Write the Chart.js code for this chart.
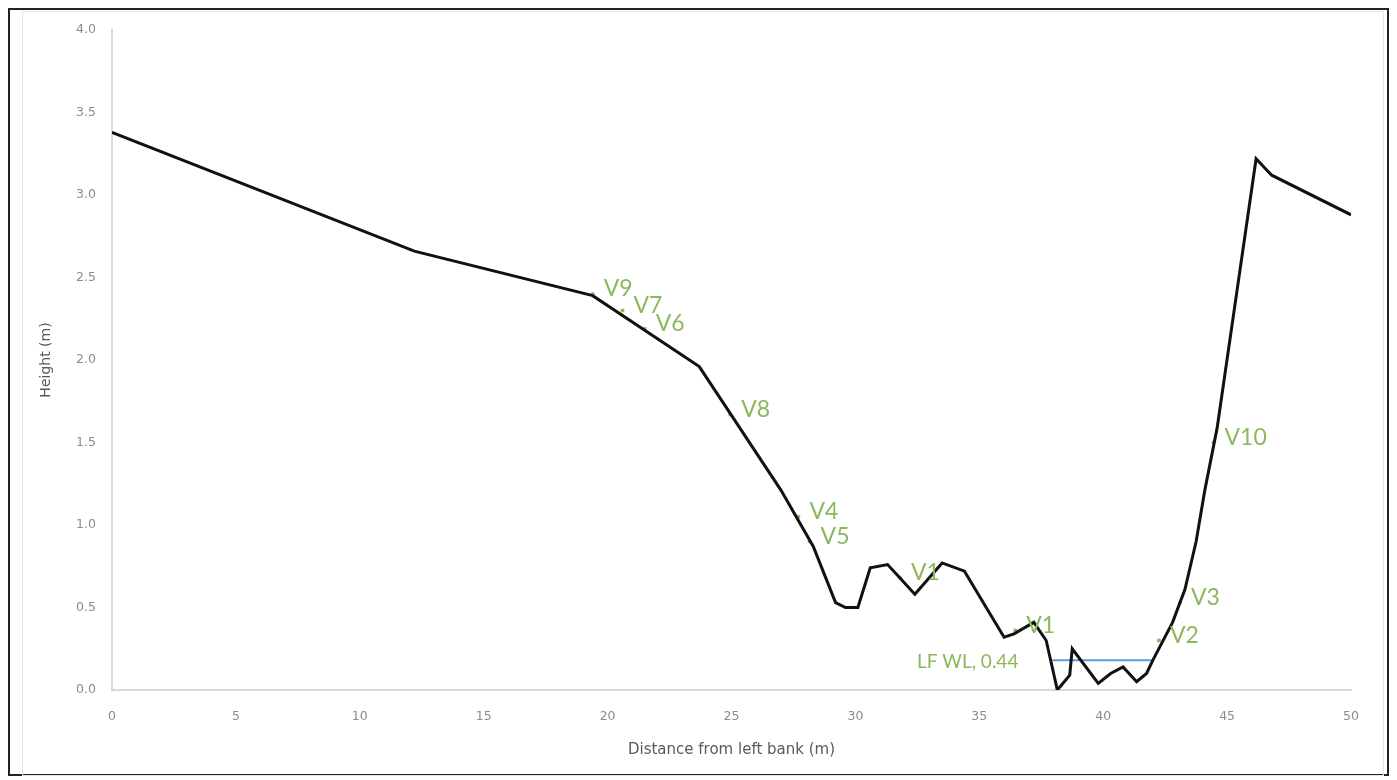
<!DOCTYPE html>
<html>
<head>
<meta charset="utf-8">
<script src="https://cdn.jsdelivr.net/npm/chart.js@4"></script>
<style>
  html, body { margin: 0; padding: 0; background: #fff; }
  #wrap { position: relative; width: 1397px; height: 780px; }
  #frame { position: absolute; left: 8px; top: 8px; width: 1381px; height: 768px; border: 2px solid #222; box-sizing: border-box; }
  #inner { position: absolute; left: 22px; top: 11px; width: 1362px; height: 765px; border: 1px solid #e6e6e6; box-sizing: border-box; }
  canvas { position: absolute; left: 0; top: 0; }
</style>
</head>
<body>
<div id="wrap">
  <div id="frame"></div>
  <div id="inner"></div>
  <canvas id="profile" width="1397" height="780"></canvas>
</div>
<script>
// cross-section survey: distance from left bank vs bed height
const profileX = [0, 12.2, 19.4, 23.7, 27.0, 28.3, 29.2, 29.6, 30.1, 30.6, 31.3, 32.4, 33.5, 34.4,
  36.0, 36.4, 37.2, 37.7, 38.15, 38.65, 38.75, 39.8, 40.3, 40.8, 41.35, 41.75, 42.0, 42.8,
  43.3, 43.75, 44.1, 44.6, 46.17, 46.8, 50.0];
const profileY = [3.38, 2.66, 2.39, 1.96, 1.21, 0.87, 0.53, 0.50, 0.50, 0.74, 0.76, 0.58, 0.77, 0.72,
  0.32, 0.34, 0.41, 0.30, 0.0, 0.09, 0.25, 0.04, 0.10, 0.14, 0.05, 0.10, 0.18, 0.41,
  0.61, 0.90, 1.21, 1.59, 3.22, 3.12, 2.88];

// velocity sampling points
const pointNames = ['V9', 'V7', 'V6', 'V8', 'V4', 'V5', 'V1', 'V1', 'V2', 'V3', 'V10'];
const pointX = [19.4, 20.6, 21.5, 24.95, 27.7, 28.15, 31.8, 36.45, 42.25, 43.1, 44.45];
const pointY = [2.40, 2.30, 2.19, 1.67, 1.05, 0.90, 0.68, 0.36, 0.30, 0.53, 1.50];

// low flow water level
const lfwlName = 'LF WL, 0.44';
const lfwlX = [37.95, 41.95];
const lfwlY = [0.18, 0.18];

const xTicks = [0, 5, 10, 15, 20, 25, 30, 35, 40, 45, 50];
const yTicks = [0, 0.5, 1.0, 1.5, 2.0, 2.5, 3.0, 3.5, 4.0];

const green = '#8cb85c';
const font = 'Lato, "Open Sans", sans-serif';
const axisFont = '"DejaVu Sans", Verdana, sans-serif';

const toPts = (xs, ys) => xs.map((x, i) => ({ x: x, y: ys[i] }));

const labelPlugin = {
  id: 'pointText',
  afterDatasetsDraw(chart) {
    const ctx = chart.ctx;
    ctx.save();
    ctx.fillStyle = green;
    ctx.textBaseline = 'middle';
    ctx.font = '23px ' + font;
    ctx.textAlign = 'left';
    chart.getDatasetMeta(2).data.forEach((p, i) => {
      ctx.fillText(pointNames[i], p.x + 11, p.y - 5);
    });
    const wl = chart.getDatasetMeta(1).data[0];
    ctx.font = '19px ' + font;
    ctx.textAlign = 'right';
    ctx.fillText(lfwlName, wl.x - 34, wl.y + 2);
    ctx.restore();
  }
};

new Chart(document.getElementById('profile').getContext('2d'), {
  type: 'scatter',
  data: {
    datasets: [{
      label: 'Bed profile',
      data: toPts(profileX, profileY),
      showLine: true,
      borderColor: '#111',
      borderWidth: 3,
      pointRadius: 0,
      tension: 0
    }, {
      label: lfwlName,
      data: toPts(lfwlX, lfwlY),
      showLine: true,
      borderColor: '#5b9bd5',
      borderWidth: 2,
      pointRadius: 0
    }, {
      label: 'Velocity points',
      data: toPts(pointX, pointY),
      showLine: false,
      pointRadius: 2,
      pointBackgroundColor: green,
      pointBorderWidth: 0
    }]
  },
  options: {
    responsive: false,
    animation: false,
    layout: { padding: { left: 0, top: 30, right: 46, bottom: 0 } },
    plugins: { legend: { display: false }, tooltip: { enabled: false } },
    scales: {
      x: {
        type: 'linear',
        min: 0, max: 50,
        afterFit: s => { s.height = 90; },
        afterBuildTicks: s => { s.ticks = xTicks.map(v => ({ value: v })); },
        grid: { display: false, drawTicks: false },
        border: { color: '#d9d9d9', width: 2 },
        ticks: { color: '#8c8c8c', font: { family: axisFont, size: 12.5 }, padding: 19 },
        title: { display: true, text: 'Distance from left bank (m)', color: '#595959',
          font: { family: axisFont, size: 15 }, padding: { bottom: 21 } }
      },
      y: {
        type: 'linear',
        min: 0, max: 4,
        afterFit: s => { s.width = 112; },
        afterBuildTicks: s => { s.ticks = yTicks.map(v => ({ value: v })); },
        grid: { display: false, drawTicks: false },
        border: { color: '#d9d9d9', width: 2 },
        ticks: { color: '#8c8c8c', font: { family: axisFont, size: 12.5 }, padding: 16,
          callback: v => Number(v).toFixed(1) },
        title: { display: true, text: 'Height (m)', color: '#595959',
          font: { family: axisFont, size: 14 }, padding: { top: 38 } }
      }
    }
  },
  plugins: [labelPlugin]
});
</script>
</body>
</html>
